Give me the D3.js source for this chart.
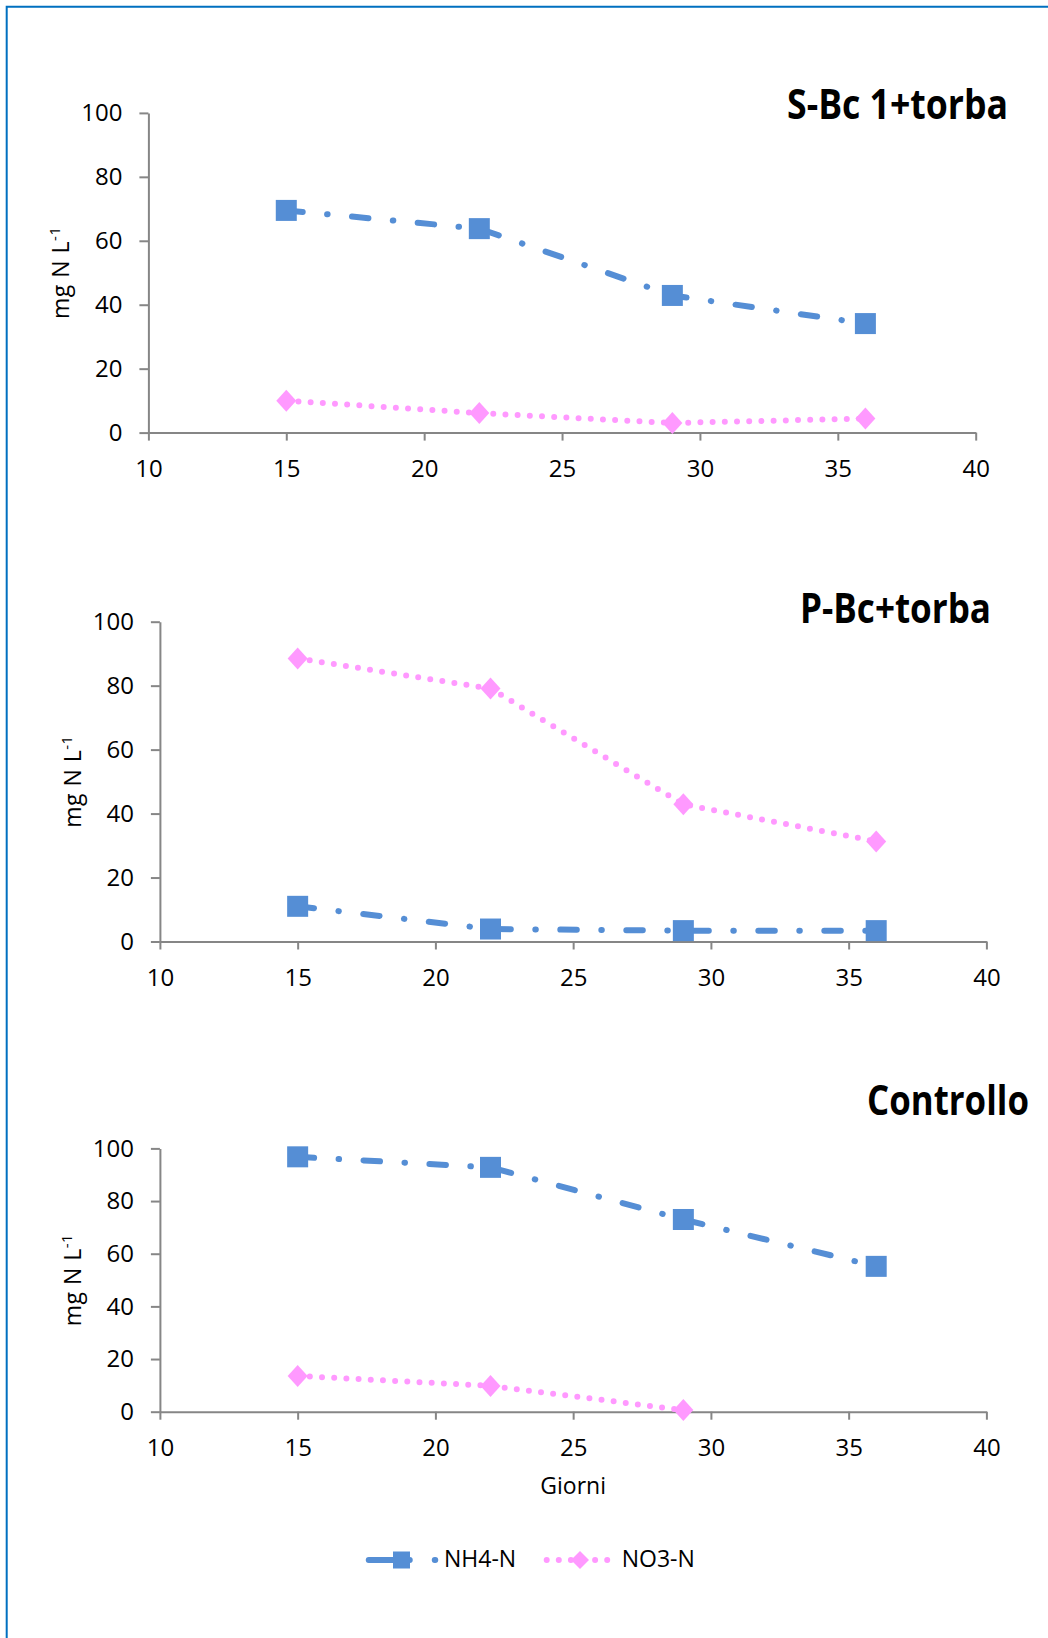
<!DOCTYPE html>
<html>
<head>
<meta charset="utf-8">
<script src="https://cdn.jsdelivr.net/npm/d3@7"></script>
<style>
  body { margin: 0; background: #fff; }
  svg { display: block; }
</style>
</head>
<body>
<div id="chart"></div>
<script>
// data
var days = [15, 22, 29, 36];
var seriesNames = ['NH4-N', 'NO3-N'];
var panelTitles = ['S-Bc 1+torba', 'P-Bc+torba', 'Controllo'];

var nh4Sbc = [69.5, 63.8, 42.9, 34.1];
var no3Sbc = [10.0, 6.1, 3.0, 4.4];

var nh4Pbc = [11.0, 3.9, 3.4, 3.4];
var no3Pbc = [88.5, 79.1, 42.9, 31.3];

var nh4Ctrl = [96.8, 92.8, 73.0, 55.2];
var no3Ctrl = [13.6, 9.8, 0.6]; // nessun valore al giorno 36

var xTicks = [10, 15, 20, 25, 30, 35, 40];
var yTicks = [0, 20, 40, 60, 80, 100];
var xLabel = 'Giorni';

// size
var width = 1048;
var height = 1638;

// colors
var colorNH4 = '#558ED5';
var colorNO3 = '#FF99FF';
var axisColor = '#868686';
var frameColor = '#0070C0';

var lineWidth = 6;
var nh4Dash = '16.5,24.5,0.5,24.5';
var no3Dash = '0,12.2';

var tickFont = '"Open Sans", sans-serif';

// panel layout
var panels = [
  {title: panelTitles[0], nh4: nh4Sbc, no3: no3Sbc,
    left: 148.4, right: 975.7, top: 112.9, bottom: 432.6,
    titleX: 1008, titleY: 119, titleW: 221},
  {title: panelTitles[1], nh4: nh4Pbc, no3: no3Pbc,
    left: 159.9, right: 986.4, top: 621.7, bottom: 941.5,
    titleX: 991, titleY: 623, titleW: 191},
  {title: panelTitles[2], nh4: nh4Ctrl, no3: no3Ctrl,
    left: 159.9, right: 986.4, top: 1148.4, bottom: 1411.7,
    titleX: 1029, titleY: 1115, titleW: 162}
];

var svg = d3.select('#chart').append('svg')
  .attr('width', width).attr('height', height);

svg.append('rect')
  .attr('width', width).attr('height', height)
  .attr('fill', '#fff');

// frame (only top and left edge visible)
svg.append('path')
  .attr('d', 'M6.7,' + height + 'V6.7H' + width)
  .attr('fill', 'none')
  .attr('stroke', frameColor)
  .attr('stroke-width', 2);

function squareMarker(g, cx, cy, size) {
  g.append('rect')
    .attr('x', cx - size / 2).attr('y', cy - size / 2)
    .attr('width', size).attr('height', size)
    .attr('fill', colorNH4);
}

function diamondMarker(g, cx, cy, w, h) {
  g.append('path')
    .attr('d', 'M' + cx + ',' + (cy - h / 2) + 'L' + (cx + w / 2) + ',' + cy +
      'L' + cx + ',' + (cy + h / 2) + 'L' + (cx - w / 2) + ',' + cy + 'Z')
    .attr('fill', colorNO3);
}

panels.forEach(function(p) {
  var x = d3.scaleLinear().domain([10, 40]).range([p.left, p.right]);
  var y = d3.scaleLinear().domain([0, 100]).range([p.bottom, p.top]);

  var g = svg.append('g');

  // axes
  var yAxis = g.append('g')
    .attr('transform', 'translate(' + p.left + ',0)')
    .call(d3.axisLeft(y).tickValues(yTicks).tickSize(9).tickSizeOuter(0).tickPadding(17));
  var xAxis = g.append('g')
    .attr('transform', 'translate(0,' + p.bottom + ')')
    .call(d3.axisBottom(x).tickValues(xTicks).tickSize(8).tickSizeOuter(0).tickPadding(19));

  [yAxis, xAxis].forEach(function(a) {
    a.select('.domain').attr('stroke', axisColor).attr('stroke-width', 2);
    a.selectAll('.tick line').attr('stroke', axisColor).attr('stroke-width', 2);
    a.selectAll('.tick text')
      .attr('fill', '#000')
      .style('font-family', tickFont)
      .style('font-size', '24px');
  });

  // y label
  var yl = g.append('text')
    .attr('transform', 'translate(' + (p.left - 79) + ',' + ((p.top + p.bottom) / 2) + ') rotate(-90)')
    .attr('text-anchor', 'middle')
    .style('font-family', tickFont)
    .style('font-size', '23px')
    .style('letter-spacing', '0.5px')
    .attr('fill', '#000');
  yl.append('tspan').text('mg N L');
  yl.append('tspan').attr('dy', -9).style('font-size', '15px').text('-1');

  // title: narrowed horizontally to the width of the original
  var tg = g.append('g');
  var tt = tg.append('text')
    .attr('text-anchor', 'end')
    .style('font-family', tickFont)
    .style('font-weight', 'bold')
    .style('font-size', '42px')
    .attr('fill', '#000')
    .text(p.title);
  var natural = tt.node().getComputedTextLength();
  tg.attr('transform', 'translate(' + p.titleX + ',' + p.titleY + ') scale(' + (p.titleW / natural) + ',1)');

  var line = d3.line()
    .x(function(d, i) { return x(days[i]); })
    .y(function(d) { return y(d); });

  // lines
  g.append('path')
    .attr('d', line(p.nh4))
    .attr('fill', 'none')
    .attr('stroke', colorNH4)
    .attr('stroke-width', lineWidth)
    .attr('stroke-linecap', 'round')
    .attr('stroke-dasharray', nh4Dash);

  g.append('path')
    .attr('d', line(p.no3))
    .attr('fill', 'none')
    .attr('stroke', colorNO3)
    .attr('stroke-width', lineWidth)
    .attr('stroke-linecap', 'round')
    .attr('stroke-dasharray', no3Dash);

  // markers
  p.nh4.forEach(function(d, i) {
    squareMarker(g, x(days[i]), y(d), 21);
  });
  p.no3.forEach(function(d, i) {
    diamondMarker(g, x(days[i]), y(d), 20, 22);
  });
});

// x label (bottom panel only)
svg.append('text')
  .attr('x', (panels[2].left + panels[2].right) / 2)
  .attr('y', 1494)
  .attr('text-anchor', 'middle')
  .style('font-family', tickFont)
  .style('font-size', '23px')
  .attr('fill', '#000')
  .text(xLabel);

// legend
var legend = svg.append('g');
var ly = 1560;

legend.append('path')
  .attr('d', 'M368.75,' + ly + 'H440')
  .attr('fill', 'none')
  .attr('stroke', colorNH4)
  .attr('stroke-width', lineWidth)
  .attr('stroke-linecap', 'round')
  .attr('stroke-dasharray', '41,25,0.5,200');
squareMarker(legend, 401.5, ly, 17);
legend.append('text')
  .attr('x', 444).attr('y', 1567)
  .style('font-family', tickFont)
  .style('font-size', '23px')
  .attr('fill', '#000')
  .text(seriesNames[0]);

legend.append('path')
  .attr('d', 'M546.7,' + ly + 'H608')
  .attr('fill', 'none')
  .attr('stroke', colorNO3)
  .attr('stroke-width', lineWidth)
  .attr('stroke-linecap', 'round')
  .attr('stroke-dasharray', '0,12.1');
diamondMarker(legend, 580, ly, 18, 18);
legend.append('text')
  .attr('x', 621.7).attr('y', 1567)
  .style('font-family', tickFont)
  .style('font-size', '23px')
  .attr('fill', '#000')
  .text(seriesNames[1]);
</script>
</body>
</html>
